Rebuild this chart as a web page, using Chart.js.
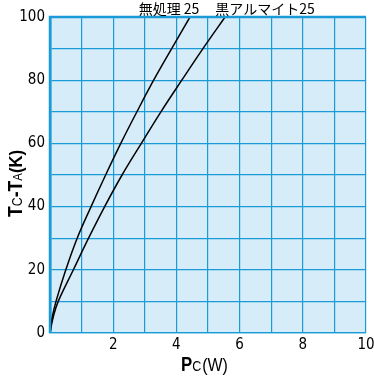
<!DOCTYPE html>
<html lang="ja">
<head>
<meta charset="UTF-8">
<title>Tc-Ta vs Pc</title>
<script src="https://cdn.jsdelivr.net/npm/chart.js"></script>
<style>
  body { margin: 0; background: #ffffff; }
  #wrap { width: 374px; height: 376px; }
</style>
</head>
<body>
<div id="wrap"><canvas id="chart" width="374" height="376"></canvas></div>
<script>
// series: power (W) vs temperature rise (K)
const plainX = [0, 0.07, 0.19, 0.50, 0.86, 1.30, 1.76, 2.24, 2.75, 3.28, 3.85, 4.43];
const plainY = [0, 5, 10, 20, 30, 40, 50, 60, 70, 80, 90, 100];
const blackX = [0, 0.10, 0.26, 0.74, 1.22, 1.73, 2.28, 2.89, 3.51, 4.17, 4.84, 5.54];
const blackY = [0, 5, 10, 20, 30, 40, 50, 60, 70, 80, 90, 100];
const seriesNames = ['無処理 25', '黒アルマイト25'];
const yTickLabels = [0, 20, 40, 60, 80, 100];
const xTickLabels = [2, 4, 6, 8, 10];

const gridColor = '#1b9ad8';
const plotBg = '#d6ecf9';
const tickFont = '"Liberation Sans Narrow", "DejaVu Sans Condensed", Arial, sans-serif';

function toPoints(xs, ys) {
  return xs.map((x, i) => ({ x: x, y: ys[i] }));
}

// draws mixed-size text pieces one after another, squeezed along the run
function drawRun(ctx, parts, squeeze) {
  ctx.save();
  ctx.scale(squeeze, 1);
  let p = 0;
  parts.forEach(([t, f, gap]) => {
    ctx.font = f;
    ctx.fillText(t, p + (gap || 0), 0);
    p += ctx.measureText(t).width + (gap || 0);
  });
  ctx.restore();
}

const extras = {
  id: 'extras',
  beforeDraw(chart) {
    const { ctx, chartArea: a } = chart;
    ctx.save();
    ctx.fillStyle = plotBg;
    ctx.fillRect(a.left, a.top, a.right - a.left, a.bottom - a.top);
    ctx.restore();
  },
  afterDraw(chart) {
    const { ctx, chartArea: a } = chart;
    ctx.save();
    // thicker left and top frame
    ctx.strokeStyle = gridColor;
    ctx.lineWidth = 2.5;
    ctx.beginPath();
    ctx.moveTo(a.left, a.bottom);
    ctx.lineTo(a.left, a.top);
    ctx.lineTo(a.right, a.top);
    ctx.stroke();

    // curve labels at top
    ctx.fillStyle = '#000';
    ctx.textBaseline = 'alphabetic';
    ctx.font = '14px "Noto Sans CJK JP", sans-serif';
    ctx.textAlign = 'center';
    ctx.fillText(seriesNames[0], 169, 14);
    ctx.fillText(seriesNames[1], 265, 14);
    ctx.textAlign = 'left';

    const bold = 'bold 20px "Liberation Sans", Arial, sans-serif';
    const reg = '19px "Liberation Sans", Arial, sans-serif';

    // x title: Pc(W)
    ctx.save();
    ctx.translate(181, 371);
    drawRun(ctx, [
      ['P', bold],
      ['C', '15px "Liberation Sans", Arial, sans-serif'],
      ['(W)', reg, 1]
    ], 0.84);
    ctx.restore();

    // y title: Tc-TA(K)
    ctx.save();
    ctx.translate(22, 217);
    ctx.rotate(-Math.PI / 2);
    drawRun(ctx, [
      ['T', bold],
      ['C', '14px "Liberation Sans", Arial, sans-serif'],
      ['-', bold],
      ['T', bold],
      ['A', '13px "Liberation Sans", Arial, sans-serif'],
      ['(K)', 'bold 19px "Liberation Sans", Arial, sans-serif']
    ], 0.88);
    ctx.restore();
    ctx.restore();
  }
};

new Chart(document.getElementById('chart'), {
  type: 'scatter',
  data: {
    datasets: [
      {
        label: seriesNames[0],
        data: toPoints(plainX, plainY),
        showLine: true,
        borderColor: '#000',
        borderWidth: 1.5,
        pointRadius: 0,
        tension: 0.4
      },
      {
        label: seriesNames[1],
        data: toPoints(blackX, blackY),
        showLine: true,
        borderColor: '#000',
        borderWidth: 1.5,
        pointRadius: 0,
        tension: 0.4
      }
    ]
  },
  options: {
    responsive: false,
    animation: false,
    layout: { padding: { top: 17, right: 0, left: 0, bottom: 0 } },
    plugins: { legend: { display: false }, tooltip: { enabled: false } },
    scales: {
      x: {
        min: 0, max: 10,
        afterFit(s) { s.height = 43; s.paddingRight = 8; s.paddingLeft = 0; },
        ticks: {
          stepSize: 1,
          autoSkip: false,
          maxRotation: 0,
          padding: 3,
          color: '#000',
          font: { family: tickFont, size: 15 },
          callback: v => xTickLabels.includes(v) ? String(v) : ''
        },
        grid: { color: gridColor, lineWidth: 1.2, drawTicks: false },
        border: { color: gridColor, width: 1.2 }
      },
      y: {
        min: 0, max: 100,
        afterFit(s) { s.width = 50; },
        ticks: {
          stepSize: 10,
          autoSkip: false,
          padding: 5,
          color: '#000',
          font: { family: tickFont, size: 15 },
          callback: v => yTickLabels.includes(v) ? String(v) : ''
        },
        grid: { color: gridColor, lineWidth: 1.2, drawTicks: false },
        border: { color: gridColor, width: 2.5 }
      }
    }
  },
  plugins: [extras]
});
</script>
</body>
</html>
